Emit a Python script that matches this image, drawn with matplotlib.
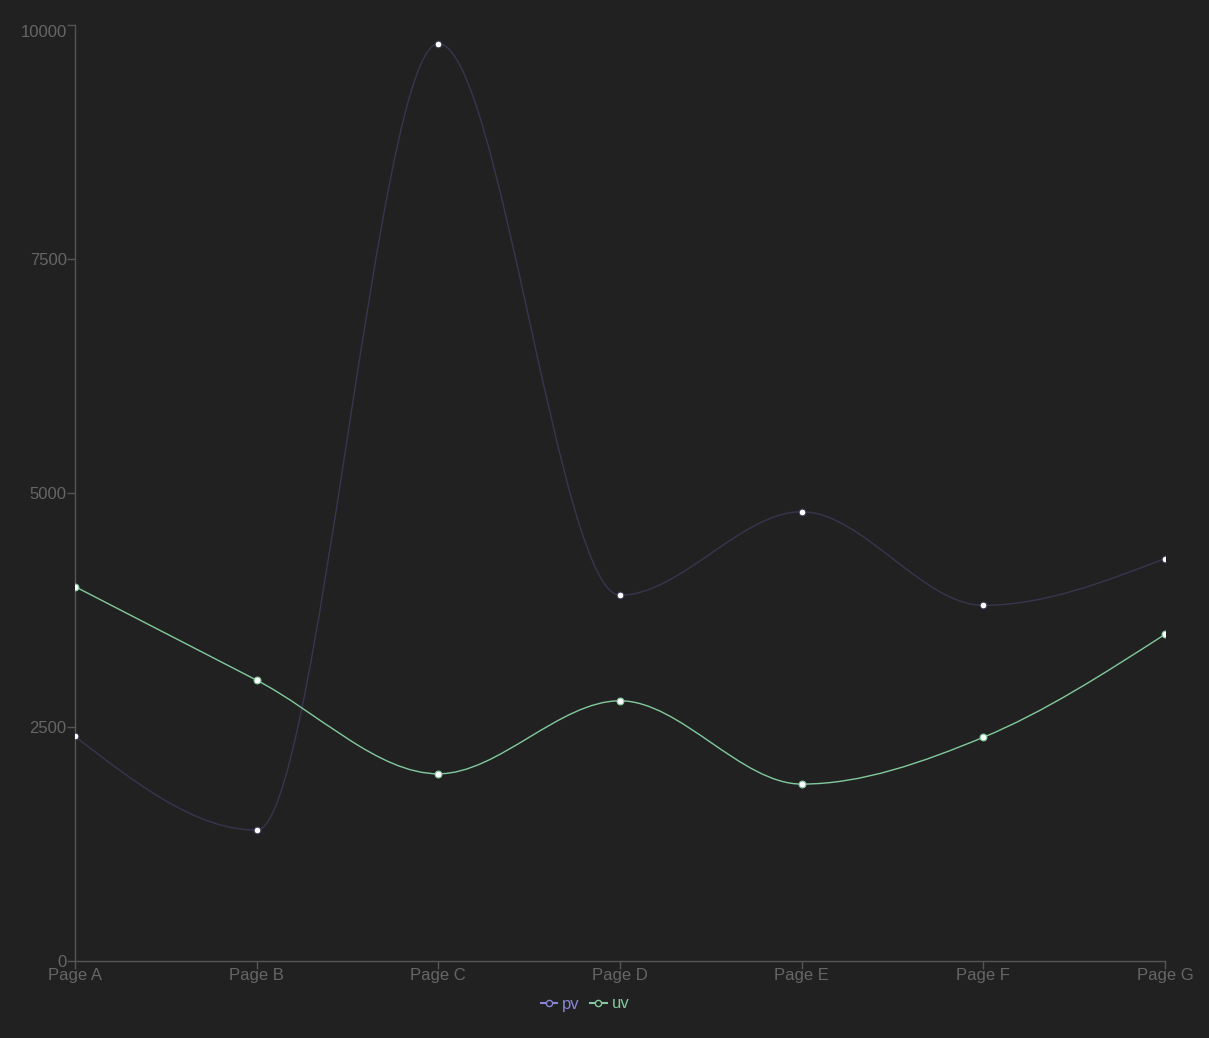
import numpy as np
import matplotlib
matplotlib.use("Agg")
import matplotlib.pyplot as plt
from matplotlib.lines import Line2D
from matplotlib.path import Path
from matplotlib.patches import PathPatch
import matplotlib.transforms as mtransforms

pages = ["Page A", "Page B", "Page C", "Page D", "Page E", "Page F", "Page G"]
pv = [2400, 1398, 9800, 3908, 4800, 3800, 4300]
uv = [4000, 3000, 2000, 2780, 1890, 2390, 3490]
y_ticks = [0, 2500, 5000, 7500, 10000]

BG = "#212121"
AXIS = "#555555"
TXT = "#666666"
PV_LEGEND = "#8884d8"
PV_LINE = "#37364f"
UV = "#82ca9d"

plt.rcParams["font.family"] = ["Liberation Sans", "DejaVu Sans"]


def monotone_path(x, y):
    # d3 curveMonotoneX as cubic bezier segments
    x = np.asarray(x, float)
    y = np.asarray(y, float)
    n = len(x)
    h = np.diff(x)
    s = np.diff(y) / h
    t = np.zeros(n)
    for i in range(1, n - 1):
        h0, h1 = h[i - 1], h[i]
        s0, s1 = s[i - 1], s[i]
        p = (s0 * h1 + s1 * h0) / (h0 + h1)
        t[i] = (np.sign(s0) + np.sign(s1)) * min(abs(s0), abs(s1), 0.5 * abs(p))
    t[0] = (3 * s[0] - t[1]) / 2
    t[-1] = (3 * s[-1] - t[-2]) / 2
    verts = [(x[0], y[0])]
    codes = [Path.MOVETO]
    for i in range(n - 1):
        dx = (x[i + 1] - x[i]) / 3
        verts += [(x[i] + dx, y[i] + dx * t[i]),
                  (x[i + 1] - dx, y[i + 1] - dx * t[i + 1]),
                  (x[i + 1], y[i + 1])]
        codes += [Path.CURVE4] * 3
    return Path(verts, codes)


fig = plt.figure(figsize=(12.09, 10.38), dpi=100, facecolor=BG)
ax = fig.add_axes([75 / 1209, 77 / 1038, 1090 / 1209, 936 / 1038], facecolor=BG)
xs = np.arange(len(pages))

for vals, col, lw in ((pv, PV_LINE, 1.0), (uv, UV, 1.0)):
    ax.add_patch(PathPatch(monotone_path(xs, vals), facecolor="none",
                           edgecolor=col, lw=lw, zorder=2))
ax.scatter(xs, pv, s=24, c="white", edgecolors=PV_LINE, linewidths=0.8, zorder=3)
ax.scatter(xs, uv, s=24, c="white", edgecolors=UV, linewidths=0.8, zorder=3)

ax.set_xlim(0, len(pages) - 1)
ax.set_ylim(0, 10000)
ax.set_xticks(xs)
ax.set_xticklabels(pages)
ax.set_yticks(y_ticks)
ax.set_yticklabels([str(v) for v in y_ticks])
for sp in ("top", "right"):
    ax.spines[sp].set_visible(False)
for sp in ("left", "bottom"):
    ax.spines[sp].set_color(AXIS)
    ax.spines[sp].set_linewidth(1)
ax.tick_params(colors=AXIS, labelcolor=TXT, labelsize=12, length=6, width=1)
ax.tick_params(axis="x", pad=-1)
ax.tick_params(axis="y", pad=0)

# top label nudged down like the reference
lbl = ax.get_yticklabels()[-1]
lbl.set_transform(lbl.get_transform() + mtransforms.ScaledTranslation(0, -6 / 100, fig.dpi_scale_trans))

handles = [Line2D([], [], color=PV_LEGEND, lw=1.5, marker="o", markersize=4.5,
                  markerfacecolor=BG, markeredgecolor=PV_LEGEND, label="pv"),
           Line2D([], [], color=UV, lw=1.5, marker="o", markersize=4.5,
                  markerfacecolor=BG, markeredgecolor=UV, label="uv")]
leg = fig.legend(handles=handles, loc="center", bbox_to_anchor=(585 / 1209, 1 - 1004 / 1038),
                 ncol=2, frameon=False, fontsize=12, handlelength=1.0, handletextpad=0.3,
                 columnspacing=0.6, labelcolor="linecolor")

fig.savefig("out.png", dpi=100, facecolor=BG)
